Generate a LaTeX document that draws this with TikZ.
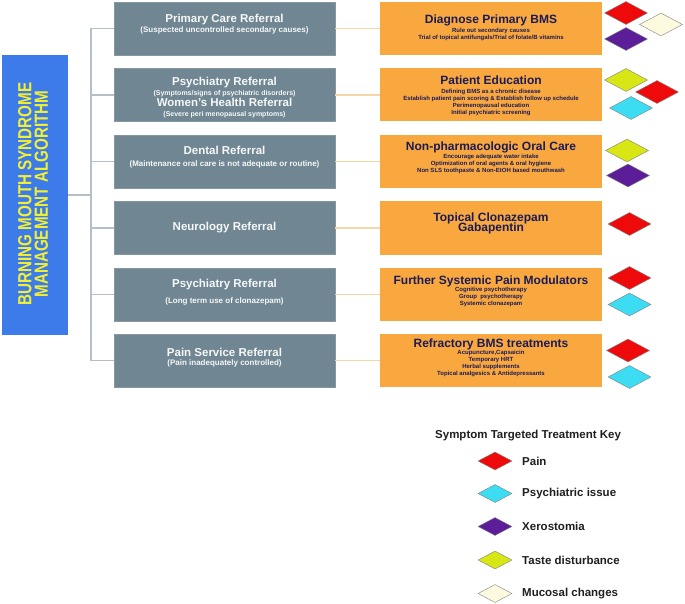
\documentclass[tikz,border=0pt]{standalone}
\usepackage{fontspec}
\setmainfont{Liberation Sans}
\usetikzlibrary{shapes.geometric}

\definecolor{bmsblue}{HTML}{3D7BEA}
\definecolor{bmsyellow}{HTML}{F2F030}
\definecolor{refgrey}{HTML}{708692}
\definecolor{treatorange}{HTML}{F9A840}
\definecolor{treatnavy}{HTML}{1B1B55}
\definecolor{linegrey}{HTML}{B3BFC9}
\definecolor{lineorange}{HTML}{F4D7A6}
\definecolor{painred}{HTML}{EE0A0A}
\definecolor{psychcyan}{HTML}{3CDDF2}
\definecolor{xeropurple}{HTML}{5C1E98}
\definecolor{tasteyellow}{HTML}{D7E614}
\definecolor{mucosalcream}{HTML}{FDFBDF}

\newcommand{\reftitle}{\fontsize{11.5}{13}\selectfont}
\newcommand{\treattitle}{\fontsize{12}{13}\selectfont}

\tikzset{
  refbox/.style={draw=refgrey!85!white, line width=0.6pt, fill=refgrey,
    minimum width=221pt, minimum height=53pt, inner sep=0pt},
  reftext/.style={text=white!94!refgrey, align=center,
    font=\fontsize{8}{9}\selectfont\bfseries},
  treatbox/.style={fill=treatorange, minimum width=222pt, minimum height=53pt, inner sep=0pt},
  treattext/.style={text=treatnavy, align=center,
    font=\fontsize{6}{7}\selectfont\bfseries},
  refline/.style={draw=linegrey, line width=1.2pt},
  treatline/.style={draw=lineorange, line width=1.2pt},
  sym/.style={diamond, draw=gray, line width=0.4pt, minimum width=43pt,
    minimum height=23pt, inner sep=0pt},
  keysym/.style={sym, minimum width=34pt, minimum height=18pt},
  keytext/.style={anchor=west, inner sep=0pt, text=black!88,
    font=\fontsize{11.5}{13}\selectfont\bfseries}
}

\begin{document}
\begin{tikzpicture}[x=1pt,y=-1pt]
\useasboundingbox (0,0) rectangle (685,604);

%title bar
\node[fill=bmsblue, minimum width=66pt, minimum height=280pt, inner sep=0pt] (algo) at (35,195) {};
\node[rotate=90, text=bmsyellow, align=center, font=\fontsize{19}{15.5}\selectfont\bfseries] (algot) at (33,194)
  {\scalebox{0.8}[1]{BURNING MOUTH SYNDROME}\\[1pt]\scalebox{0.8}[1]{MANAGEMENT ALGORITHM}};

%referrals
\node[refbox] (g1) at (224.5,28.5) {};
\node[refbox] (g2) at (224.5,95) {};
\node[refbox] (g3) at (224.5,161.5) {};
\node[refbox] (g4) at (224.5,228) {};
\node[refbox] (g5) at (224.5,294.5) {};
\node[refbox] (g6) at (224.5,360.5) {};

\node[reftext] (g1t) at (224.5,24) {{\reftitle Primary Care Referral}\\[1pt](Suspected uncontrolled secondary causes)};
\node[reftext] (g2t) at (224.5,97.5) {{\reftitle Psychiatry Referral}\\[1pt]{\fontsize{7}{8}\selectfont(Symptoms/signs of psychiatric disorders)}\\[1pt]
  {\reftitle Women's Health Referral}\\[1pt]{\fontsize{7}{8}\selectfont(Severe peri menopausal symptoms)}};
\node[reftext] (g3t) at (224.5,157.5) {{\reftitle Dental Referral}\\[3pt](Maintenance oral care is not adequate or routine)};
\node[reftext] (g4t) at (224.5,228) {\reftitle Neurology Referral};
\node[reftext] (g5t) at (224.5,292) {{\reftitle Psychiatry Referral}\\[7pt](Long term use of clonazepam)};
\node[reftext] (g6t) at (224.5,357.5) {{\reftitle Pain Service Referral}\\[0pt](Pain inadequately controlled)};

%treatments
\node[treatbox] (o1) at (491,28.5) {};
\node[treatbox] (o2) at (491,95) {};
\node[treatbox] (o3) at (491,161.5) {};
\node[treatbox] (o4) at (491,228) {};
\node[treatbox] (o5) at (491,294.5) {};
\node[treatbox] (o6) at (491,360.5) {};

\node[treattext] (o1t) at (491,28) {{\treattitle Diagnose Primary BMS}\\[2pt]Rule out secondary causes\\
  Trial of topical antifungals/Trial of folate/B vitamins};
\node[treattext] (o2t) at (491,95.5) {{\treattitle Patient Education}\\[2pt]Defining BMS as a chronic disease\\
  Establish patient pain scoring \& Establish follow up schedule\\Perimenopausal education\\Initial psychiatric screening};
\node[treattext] (o3t) at (491,158) {{\treattitle Non-pharmacologic Oral Care}\\[1pt]Encourage adequate water intake\\
  Optimization of oral agents \& oral hygiene\\Non SLS toothpaste \& Non-EtOH based mouthwash};
\node[treattext] (o4t) at (491,223.5) {{\treattitle Topical Clonazepam}\\[-1.5pt]{\treattitle Gabapentin}};
\node[treattext] (o5t) at (491,291) {{\treattitle Further Systemic Pain Modulators}\\[0pt]Cognitive psychotherapy\\
  Group\ \ psychotherapy\\Systemic clonazepam};
\node[treattext] (o6t) at (491,357.5) {{\treattitle Refractory BMS treatments}\\[0pt]Acupuncture,Capsaicin\\
  Temporary HRT\\Herbal supplements\\Topical analgesics \& Antidepressants};

%connectors
\coordinate (spine) at (91,0);
\draw[refline] (algo.east) -- (algo.east -| spine);
\draw[refline] (g1.west -| spine) -- (g6.west -| spine);
\foreach \i in {1,...,6}
  \draw[refline] (g\i.west -| spine) -- (g\i.west);
\foreach \i in {1,...,6}
  \draw[treatline] (g\i.east) -- (o\i.west);

%symptom diamonds
\node[sym, fill=painred] (d1a) at (626,13) {};
\node[sym, fill=mucosalcream] (d1b) at (661,24.5) {};
\node[sym, fill=xeropurple] (d1c) at (626,39) {};
\node[sym, fill=tasteyellow] (d2a) at (626,80) {};
\node[sym, fill=painred] (d2b) at (657,92) {};
\node[sym, fill=psychcyan] (d2c) at (631,108) {};
\node[sym, fill=tasteyellow] (d3a) at (627,150.5) {};
\node[sym, fill=xeropurple] (d3b) at (628,175.5) {};
\node[sym, fill=painred] (d4a) at (629.5,224) {};
\node[sym, fill=painred] (d5a) at (629.5,278) {};
\node[sym, fill=psychcyan] (d5b) at (629.5,304.5) {};
\node[sym, fill=painred] (d6a) at (628,350.5) {};
\node[sym, fill=psychcyan] (d6b) at (629.5,377) {};

%key
\node[keytext] (keyt) at (435,436) {Symptom Targeted Treatment Key};
\foreach \y/\c/\lbl [count=\k] in {461/painred/Pain, 493.5/psychcyan/Psychiatric issue,
    526.5/xeropurple/Xerostomia, 560/tasteyellow/Taste disturbance, 593.5/mucosalcream/Mucosal changes}
{
  \node[keysym, fill=\c] (k\k) at (495,\y) {};
  \node[keytext] (kl\k) at (522,\y) {\lbl};
}

\end{tikzpicture}
\end{document}
